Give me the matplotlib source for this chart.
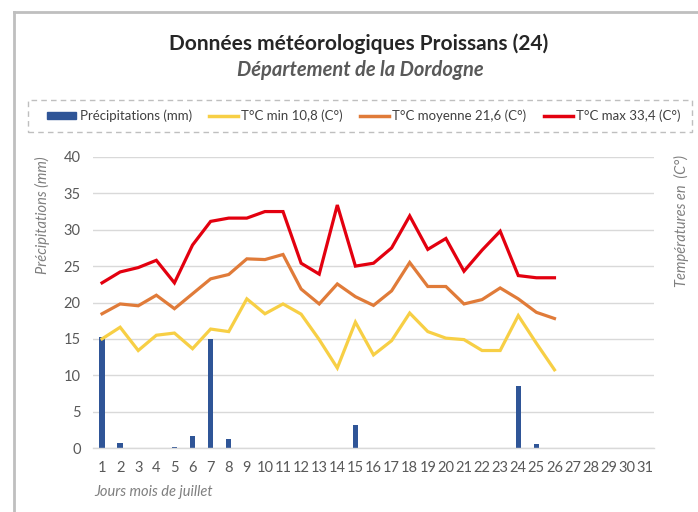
import matplotlib
matplotlib.use("Agg")
import matplotlib.pyplot as plt
from matplotlib.lines import Line2D
from matplotlib.patches import Rectangle, Patch
import numpy as np

plt.rcParams['font.family'] = ['Lato', 'DejaVu Sans']

# ---- data ----
day_labels = [str(d) for d in range(1, 32)]
days = list(range(1, 27))
precip = [15.3, 0.7, 0, 0, 0.15, 1.7, 15.0, 1.2, 0, 0, 0, 0, 0, 0, 3.2,
          0, 0, 0, 0, 0, 0, 0, 0, 8.5, 0.6, 0]
tmin = [15.0, 16.6, 13.4, 15.5, 15.8, 13.65, 16.35, 16.0, 20.5, 18.45, 19.8,
        18.4, 14.9, 11.0, 17.3, 12.8, 14.75, 18.55, 16.0, 15.1, 14.9, 13.4,
        13.4, 18.2, 14.4, 10.75]
tmean = [18.45, 19.8, 19.55, 21.0, 19.15, 21.2, 23.25, 23.85, 26.0, 25.9, 26.6,
         21.85, 19.8, 22.55, 20.8, 19.6, 21.6, 25.5, 22.2, 22.2, 19.8, 20.4,
         22.0, 20.5, 18.65, 17.8]
tmax = [22.7, 24.2, 24.8, 25.8, 22.7, 27.9, 31.15, 31.6, 31.6, 32.5, 32.5,
        25.4, 23.9, 33.4, 25.0, 25.4, 27.5, 31.9, 27.3, 28.8, 24.3, 27.2,
        29.8, 23.7, 23.4, 23.4]
yticks = [0, 5, 10, 15, 20, 25, 30, 35, 40]

title = "Données météorologiques Proissans (24)"
subtitle = "Département de la Dordogne"
series_names = ["Précipitations (mm)", "T°C min 10,8 (C°)",
                "T°C moyenne 21,6 (C°)", "T°C max 33,4 (C°)"]

c_bar = '#2F5597'
c_min = '#F7CF45'
c_mean = '#E07B39'
c_max = '#E3000F'
c_text = '#595959'
c_grid = '#D9D9D9'

W, H = 698, 512
fig = plt.figure(figsize=(W / 100, H / 100), dpi=100)
fig.patch.set_facecolor('white')

ax = fig.add_axes([93 / W, 1 - 448 / H, (654 - 93) / W, (448 - 157) / H])
ax.bar(days, precip, width=0.3, color=c_bar, zorder=2)
ax.set_xlim(0.5, 31.5)
ax.set_ylim(0, 40)
ax.set_yticks(yticks)
ax.set_xticks(range(1, 32))
ax.set_xticklabels(day_labels)
ax.grid(axis='y', color=c_grid, linewidth=1, zorder=0)
ax.set_axisbelow(True)
for s in ['top', 'right', 'left']:
    ax.spines[s].set_visible(False)
ax.spines['bottom'].set_color(c_grid)
ax.spines['bottom'].set_linewidth(1)
ax.tick_params(axis='both', length=0, colors=c_text, labelsize=10.5)
ax.tick_params(axis='x', pad=9)
ax.tick_params(axis='y', pad=9)

ax2 = ax.twinx()
ax2.set_ylim(0, 40)
ax2.plot(days, tmin, color=c_min, linewidth=2.3, solid_joinstyle='miter', zorder=3)
ax2.plot(days, tmean, color=c_mean, linewidth=2.3, solid_joinstyle='miter', zorder=3)
ax2.plot(days, tmax, color=c_max, linewidth=2.3, solid_joinstyle='miter', zorder=3)
ax2.set_yticks([])
for s in ax2.spines.values():
    s.set_visible(False)

# titles
fig.text(359 / W, 1 - 44 / H, title, ha='center', va='center',
         fontsize=15, fontweight='bold', color='#262626')
fig.text(360 / W, 1 - 70 / H, subtitle, ha='center', va='center',
         fontsize=14.5, fontweight='bold', style='italic', color='#595959')

# axis labels
fig.text(42 / W, 1 - 215 / H, "Précipitations (mm)", rotation=90, ha='center',
         va='center', fontsize=10.5, style='italic', color='#7F7F7F')
fig.text(681 / W, 1 - 221 / H, "Températures en  (C°)", rotation=90, ha='center',
         va='center', fontsize=10.5, style='italic', color='#7F7F7F')
fig.text(94 / W, 1 - 492 / H, "Jours mois de juillet", ha='left', va='center',
         fontsize=10.5, style='italic', color='#7F7F7F')

# legend with dashed box
fig.add_artist(Rectangle((28 / W, 1 - 132 / H), (692 - 28) / W, 32 / H,
                         transform=fig.transFigure, fill=False,
                         edgecolor='#BFBFBF', linestyle=(0, (4, 3)), linewidth=1))
handles = [Patch(facecolor=c_bar, edgecolor=c_bar),
           Line2D([0], [0], color=c_min, linewidth=2.5),
           Line2D([0], [0], color=c_mean, linewidth=2.5),
           Line2D([0], [0], color=c_max, linewidth=2.5)]
leg = fig.legend(handles, series_names, loc='center', ncol=4,
                 bbox_to_anchor=(364 / W, 1 - 116 / H), frameon=False,
                 fontsize=9.5, handlelength=2.2, handleheight=0.45,
                 handletextpad=0.25, columnspacing=1.3, labelcolor='#404040')

# border of screenshot
fig.add_artist(Line2D([14 / W, 14 / W], [0, 1 - 12 / H], transform=fig.transFigure,
                      color='#BFBFBF', linewidth=2))
fig.add_artist(Line2D([14 / W, 1], [1 - 12 / H, 1 - 12 / H], transform=fig.transFigure,
                      color='#BFBFBF', linewidth=2))

fig.savefig('out.png', dpi=100)
